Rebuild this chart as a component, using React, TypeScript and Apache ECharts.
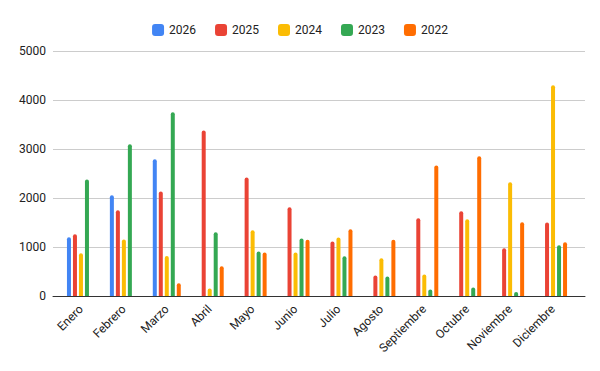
import React, { useEffect, useRef } from "react";
import * as echarts from "echarts";

const categories = ["Enero", "Febrero", "Marzo", "Abril", "Mayo", "Junio", "Julio", "Agosto", "Septiembre", "Octubre", "Noviembre", "Diciembre"];
const seriesNames = ["2026", "2025", "2024", "2023", "2022"];
const s2026 = [1200, 2055, 2790, null, null, null, null, null, null, null, null, null];
const s2025 = [1260, 1750, 2135, 3380, 2420, 1810, 1110, 420, 1585, 1730, 975, 1500];
const s2024 = [870, 1155, 815, 155, 1340, 890, 1195, 770, 440, 1565, 2320, 4300];
const s2023 = [2380, 3095, 3750, 1300, 910, 1175, 810, 400, 135, 175, 80, 1035];
const s2022 = [null, null, 260, 605, 890, 1150, 1360, 1150, 2665, 2850, 1505, 1095];
const colors = ["#4285F4", "#EA4335", "#FBBC04", "#34A853", "#FF6D01"];
const yTicks = { min: 0, max: 5000, interval: 1000 };

export default function App() {
  const ref = useRef<HTMLDivElement>(null);
  useEffect(() => {
    if (!ref.current) return;
    document.body.style.margin = "0";
    const chart = echarts.init(ref.current, null, { renderer: "svg" });
    const data = [s2026, s2025, s2024, s2023, s2022];
    chart.setOption({
      animation: false,
      color: colors,
      textStyle: { fontFamily: "Roboto" },
      legend: {
        top: 19,
        left: "center",
        icon: "roundRect",
        itemWidth: 12,
        itemHeight: 12,
        itemGap: 19,
        textStyle: { fontFamily: "Roboto", fontSize: 12, color: "#222" },
        data: seriesNames,
      },
      grid: [
        { left: 53, right: 15, top: 51, bottom: 75 },
        { left: 59.5, right: 25.5, top: 51, bottom: 75 },
      ],
      xAxis: [
        {
          gridIndex: 0,
          type: "category",
          data: categories,
          axisLine: { lineStyle: { color: "#333", width: 1 } },
          axisTick: { show: false },
          axisLabel: { show: false },
          splitLine: { show: false },
        },
        {
          gridIndex: 1,
          type: "category",
          data: categories,
          axisLine: { show: false },
          axisTick: { show: false },
          axisLabel: {
            rotate: 45,
            margin: 11,
            fontFamily: "Roboto",
            fontSize: 12,
            color: "#222",
            interval: 0,
          },
        },
      ],
      yAxis: [
        {
          gridIndex: 0,
          type: "value",
          min: yTicks.min,
          max: yTicks.max,
          interval: yTicks.interval,
          axisLine: { show: false },
          axisTick: { show: false },
          axisLabel: {
            fontFamily: "Roboto",
            fontSize: 12,
            color: "#222",
            margin: 7,
            formatter: (v: number) => String(v),
          },
          splitLine: { lineStyle: { color: "#ccc", width: 1 } },
        },
        {
          gridIndex: 1,
          type: "value",
          min: yTicks.min,
          max: yTicks.max,
          interval: yTicks.interval,
          show: false,
          splitLine: { show: false },
        },
      ],
      series: seriesNames.map((name, i) => ({
        name,
        type: "bar",
        xAxisIndex: 1,
        yAxisIndex: 1,
        data: data[i],
        barWidth: 4,
        barGap: "50%",
        itemStyle: { color: colors[i], borderRadius: [2, 2, 0, 0] },
      })),
    });
    return () => chart.dispose();
  }, []);
  return <div ref={ref} style={{ width: 600, height: 371 }} />;
}
